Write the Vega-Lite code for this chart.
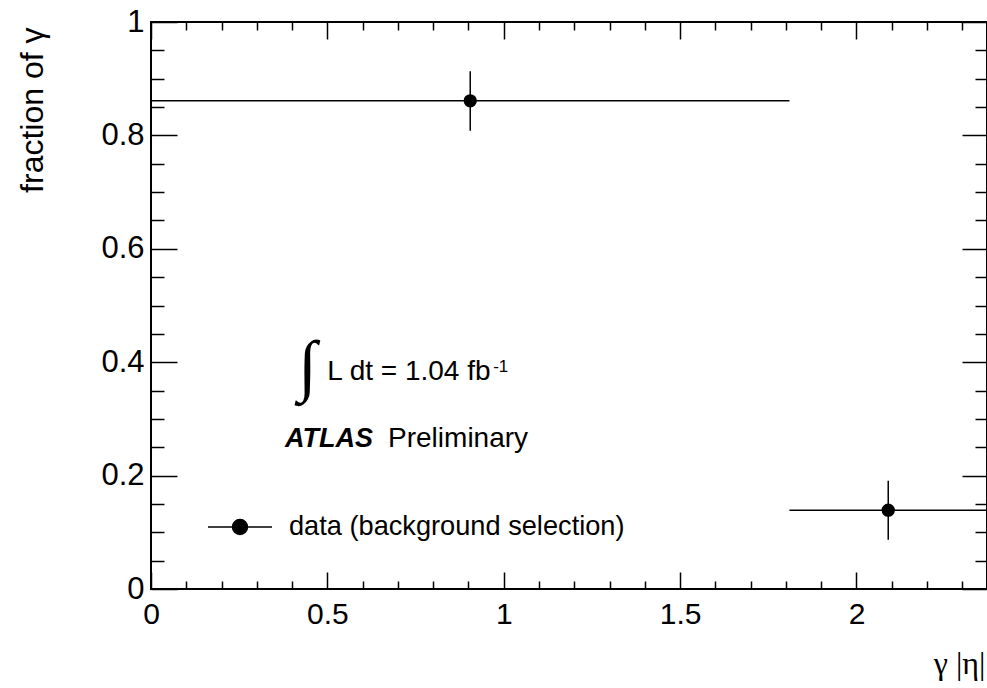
{
  "$schema": "https://vega.github.io/schema/vega-lite/v6.json",
  "width": 836,
  "height": 567,
  "autosize": {"type": "none"},
  "padding": {"left": 151, "top": 22, "right": 0, "bottom": 99},
  "background": "white",
  "config": {
    "font": "Liberation Sans",
    "view": {"stroke": "black", "strokeWidth": 2},
    "axis": {"domain": false, "grid": false, "tickColor": "black", "tickWidth": 1.5, "labelColor": "black", "titleColor": "black", "titleFontWeight": "normal"}
  },
  "datasets": {
    "points": [
      {"eta": 0.905, "eta_lo": 0.0, "eta_hi": 1.81, "frac": 0.861, "frac_lo": 0.808, "frac_hi": 0.913, "series": "data (background selection)"},
      {"eta": 2.09, "eta_lo": 1.81, "eta_hi": 2.37, "frac": 0.139, "frac_lo": 0.087, "frac_hi": 0.191, "series": "data (background selection)"}
    ],
    "labels": [
      {"x": 0.5, "y": 0.369, "text": "L dt = 1.04 fb"},
      {"x": 0.672, "y": 0.251, "text": "Preliminary"}
    ],
    "atlas": [{"x": 0.38, "y": 0.251, "text": "ATLAS"}],
    "integral": [{"x": 0.443, "y": 0.39, "text": "∫"}],
    "sup": [{"x": 0.97, "y": 0.383, "text": "-1"}]
  },
  "resolve": {"axis": {"x": "independent", "y": "independent"}},
  "layer": [
    {
      "data": {"name": "points"},
      "mark": {"type": "rule", "color": "black", "strokeWidth": 1.5},
      "encoding": {
        "x": {"field": "eta_lo", "type": "quantitative", "scale": {"domain": [0, 2.37], "nice": false, "zero": false},
              "axis": {"orient": "bottom", "values": [0, 0.5, 1, 1.5, 2], "format": ".1~f", "ticks": false, "labelFontSize": 30, "labelPadding": 10, "labelFlush": false,
                       "title": "γ |η|", "titleFont": "Liberation Serif", "titleFontSize": 32, "titleAlign": "right", "titleAnchor": "end", "titleBaseline": "alphabetic", "titleX": 834, "titleY": 84}},
        "x2": {"field": "eta_hi"},
        "y": {"field": "frac", "type": "quantitative", "scale": {"domain": [0, 1], "nice": false, "zero": false},
              "axis": {"orient": "left", "values": [0, 0.2, 0.4, 0.6, 0.8, 1], "format": ".1~f", "ticks": false, "labelFontSize": 31, "labelPadding": 7, "labelFlush": false,
                       "title": "fraction of γ", "titleFontSize": 32, "titleAngle": 270, "titleAlign": "right", "titleAnchor": "end", "titleBaseline": "alphabetic", "titleX": -109, "titleY": 5}}
      }
    },
    {
      "data": {"name": "points"},
      "mark": {"type": "rule", "color": "black", "strokeWidth": 1.5},
      "encoding": {
        "x": {"field": "eta", "type": "quantitative",
              "axis": {"orient": "bottom", "values": [0, 0.5, 1, 1.5, 2], "labels": false, "tickSize": -17, "title": null}},
        "y": {"field": "frac_lo", "type": "quantitative",
              "axis": {"orient": "left", "values": [0, 0.2, 0.4, 0.6, 0.8, 1], "labels": false, "tickSize": -26, "title": null}},
        "y2": {"field": "frac_hi"}
      }
    },
    {
      "data": {"name": "points"},
      "mark": {"type": "point", "filled": true, "opacity": 1, "size": 177},
      "encoding": {
        "x": {"field": "eta", "type": "quantitative",
              "axis": {"orient": "bottom", "values": [0.1, 0.2, 0.3, 0.4, 0.6, 0.7, 0.8, 0.9, 1.1, 1.2, 1.3, 1.4, 1.6, 1.7, 1.8, 1.9, 2.1, 2.2, 2.3], "labels": false, "tickSize": -8, "title": null}},
        "y": {"field": "frac", "type": "quantitative",
              "axis": {"orient": "left", "values": [0.05, 0.1, 0.15, 0.25, 0.3, 0.35, 0.45, 0.5, 0.55, 0.65, 0.7, 0.75, 0.85, 0.9, 0.95], "labels": false, "tickSize": -13, "title": null}},
        "color": {"field": "series", "type": "nominal", "scale": {"range": ["black"]},
                  "legend": {"orient": "none", "legendX": 56, "legendY": 472, "title": null, "padding": 0,
                             "symbolType": "M-1,0L1,0M-0.234,0A0.234,0.234,0,1,1,0.234,0A0.234,0.234,0,1,1,-0.234,0Z",
                             "symbolSize": 4096, "symbolStrokeWidth": 1.5, "symbolStrokeColor": "black", "symbolFillColor": "black", "symbolOpacity": 1,
                             "labelFontSize": 27.2, "labelFont": "Liberation Sans", "labelColor": "black", "labelOffset": 16, "labelLimit": 600}}
      }
    },
    {
      "data": {"name": "labels"},
      "mark": {"type": "text", "align": "left", "baseline": "alphabetic", "fontSize": 28, "color": "black"},
      "encoding": {
        "x": {"field": "x", "type": "quantitative",
              "axis": {"orient": "top", "values": [0, 0.5, 1, 1.5, 2], "labels": false, "tickSize": -17, "title": null}},
        "y": {"field": "y", "type": "quantitative",
              "axis": {"orient": "right", "values": [0, 0.2, 0.4, 0.6, 0.8, 1], "labels": false, "tickSize": -25, "title": null}},
        "text": {"field": "text"}
      }
    },
    {
      "data": {"name": "atlas"},
      "mark": {"type": "text", "align": "left", "baseline": "alphabetic", "fontSize": 27, "fontWeight": "bold", "fontStyle": "italic", "color": "black"},
      "encoding": {
        "x": {"field": "x", "type": "quantitative",
              "axis": {"orient": "top", "values": [0.1, 0.2, 0.3, 0.4, 0.6, 0.7, 0.8, 0.9, 1.1, 1.2, 1.3, 1.4, 1.6, 1.7, 1.8, 1.9, 2.1, 2.2, 2.3], "labels": false, "tickSize": -8, "title": null}},
        "y": {"field": "y", "type": "quantitative",
              "axis": {"orient": "right", "values": [0.05, 0.1, 0.15, 0.25, 0.3, 0.35, 0.45, 0.5, 0.55, 0.65, 0.7, 0.75, 0.85, 0.9, 0.95], "labels": false, "tickSize": -12, "title": null}},
        "text": {"field": "text"}
      }
    },
    {
      "data": {"name": "integral"},
      "mark": {"type": "text", "align": "center", "baseline": "middle", "fontSize": 68, "font": "DejaVu Sans", "fontWeight": 200, "color": "black"},
      "encoding": {
        "x": {"field": "x", "type": "quantitative", "axis": null},
        "y": {"field": "y", "type": "quantitative", "axis": null},
        "text": {"field": "text"}
      }
    },
    {
      "data": {"name": "sup"},
      "mark": {"type": "text", "align": "left", "baseline": "alphabetic", "fontSize": 17, "color": "black"},
      "encoding": {
        "x": {"field": "x", "type": "quantitative", "axis": null},
        "y": {"field": "y", "type": "quantitative", "axis": null},
        "text": {"field": "text"}
      }
    }
  ]
}
